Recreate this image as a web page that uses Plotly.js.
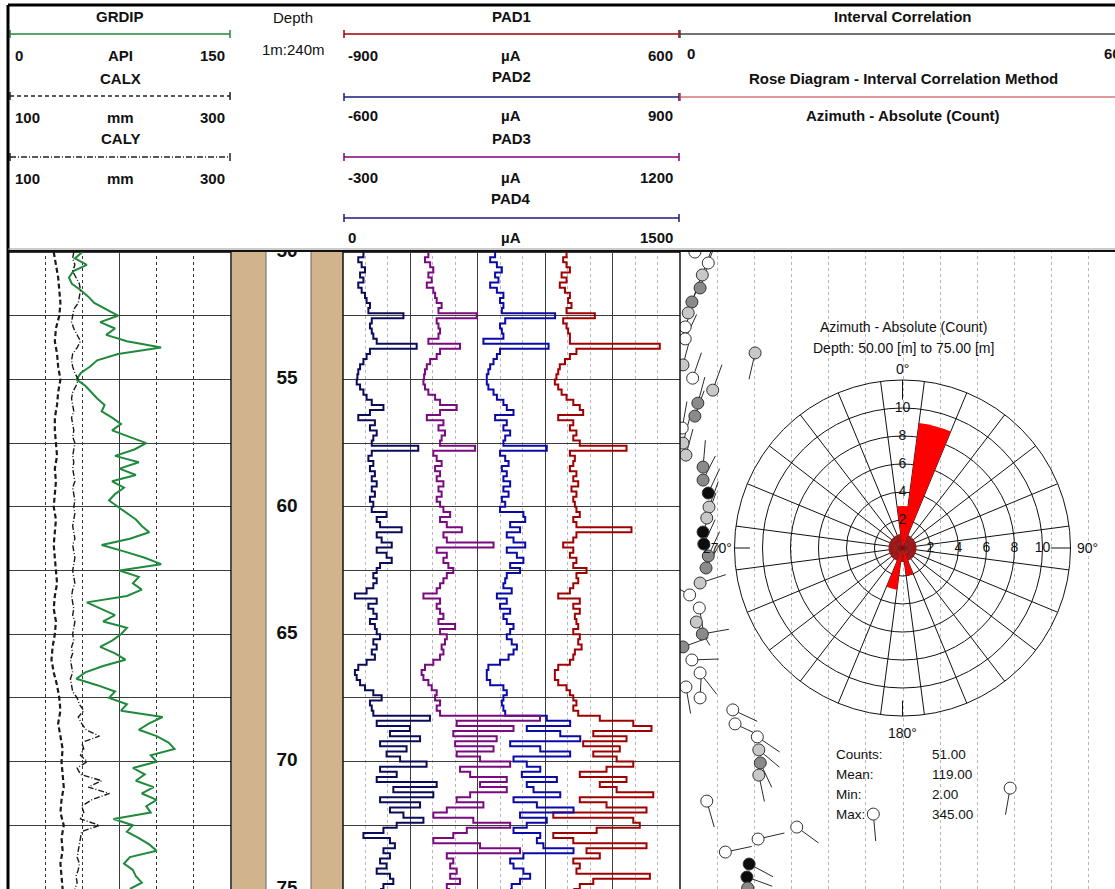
<!DOCTYPE html>
<html><head><meta charset="utf-8">
<script src="https://cdn.plot.ly/plotly-3.0.1.min.js"></script>
<style>html,body{margin:0;padding:0;background:#fff}#chart{width:1115px;height:889px}</style>
</head><body><div id="chart"></div>
<script>
// ---------------- DATA ----------------
const GR_DEPTH = [
50,50.25,50.5,50.75,51,51.25,51.5,51.75,52,52.25,
52.5,52.75,53,53.25,53.5,53.75,54,54.25,54.5,54.75,
55,55.25,55.5,55.75,56,56.25,56.5,56.75,57,57.25,
57.5,57.75,58,58.25,58.5,58.75,59,59.25,59.5,59.75,
60,60.25,60.5,60.75,61,61.25,61.5,61.75,62,62.25,
62.5,62.75,63,63.25,63.5,63.75,64,64.25,64.5,64.75,
65,65.25,65.5,65.75,66,66.25,66.5,66.75,67,67.25,
67.5,67.75,68,68.25,68.5,68.75,69,69.25,69.5,69.75,
70,70.25,70.5,70.75,71,71.25,71.5,71.75,72,72.25,
72.5,72.75,73,73.25,73.5,73.75,74,74.25,74.5,74.75,
75];
const GR = [
50,45,53,44,41,43,49,54,58,66,
74,62,72,66,80,103,74,60,55,49,
46,52,56,60,65,63,70,76,70,82,
93,85,72,88,75,86,70,78,72,68,
74,80,86,90,95,82,63,78,92,103,
75,88,84,90,80,53,62,72,64,80,
76,70,62,72,79,64,52,46,60,72,
68,80,76,104,95,88,100,108,112,96,
100,84,92,86,98,90,100,93,96,71,
84,80,88,95,100,82,78,84,86,90,
82];
const CALY = [
159,158,160,158,161,164,165,164,163,159,
158,157,159,162,165,162,158,157,158,160,
163,161,158,157,158,159,157,158,159,158,
160,159,158,159,158,159,160,158,159,160,
159,160,159,158,159,160,158,159,160,159,
158,159,160,158,157,158,159,158,160,159,
158,159,157,158,156,157,158,156,157,158,
162,164,168,163,166,170,182,166,168,165,
171,162,165,184,172,191,175,166,168,165,
182,166,165,164,163,162,164,163,161,162,
160];
const CALX_DEPTH = [
50,50.5,51,51.5,52,52.5,53,53.5,54,54.5,
55,55.5,56,56.5,57,57.5,58,58.5,59,59.5,
60,60.5,61,61.5,62,62.5,63,63.5,64,64.5,
65,65.5,66,66.5,67,67.5,68,68.5,69,69.5,
70,70.5,71,71.5,72,72.5,73,73.5,74,74.5,75];
const CALX = [
141,143,145,146,147,146,143,142,144,145,
147,145,144,142,142,143,144,142,143,142,
141,143,142,141,142,143,144,142,141,143,
142,140,139,141,144,146,147,145,147,149,
148,149,150,148,147,150,148,149,147,148,149];

const PAD_DEPTH = [
50,50.2,50.4,50.6,50.8,51,51.2,51.4,51.6,51.8,
52,52.2,52.4,52.6,52.8,53,53.2,53.4,53.6,53.8,
54,54.2,54.4,54.6,54.8,55,55.2,55.4,55.6,55.8,
56,56.2,56.4,56.6,56.8,57,57.2,57.4,57.6,57.8,
58,58.2,58.4,58.6,58.8,59,59.2,59.4,59.6,59.8,
60,60.2,60.4,60.6,60.8,61,61.2,61.4,61.6,61.8,
62,62.2,62.4,62.6,62.8,63,63.2,63.4,63.6,63.8,
64,64.2,64.4,64.6,64.8,65,65.2,65.4,65.6,65.8,
66,66.2,66.4,66.6,66.8,67,67.2,67.4,67.6,67.8,
68,68.2,68.4,68.6,68.8,69,69.2,69.4,69.6,69.8,
70,70.2,70.4,70.6,70.8,71,71.2,71.4,71.6,71.8,
72,72.2,72.4,72.6,72.8,73,73.2,73.4,73.6,73.8,
74,74.2,74.4,74.6,74.8,75];
const PAD1 = [
95,80,95,110,73,95,65,88,110,102,
117,95,221,80,95,102,110,110,510,139,
110,88,65,58,50,43,58,73,95,125,
154,169,58,125,110,139,125,154,362,110,
132,125,110,139,125,147,117,139,125,132,
139,154,125,139,384,139,125,80,125,110,
139,125,184,139,147,125,110,58,154,125,
154,132,139,147,125,154,147,162,132,125,
110,58,43,43,58,95,110,125,139,125,
147,243,392,473,214,362,169,332,214,318,
392,273,154,362,243,318,481,154,273,451,
36,392,421,229,36,125,451,184,243,125,
154,139,466,214,154,125];
const PAD2 = [
77,55,85,107,77,92,55,85,114,99,
114,107,344,122,99,107,114,25,315,99,
85,70,55,47,40,40,47,70,85,114,
129,159,77,129,114,144,122,114,307,99,
122,137,107,129,114,144,114,137,107,122,
99,203,211,144,188,129,159,211,129,174,
203,144,188,129,122,114,151,85,129,99,
144,114,129,159,144,129,151,174,159,137,
99,47,40,40,55,114,129,114,107,114,
122,307,411,218,367,456,144,278,411,159,
218,278,196,352,218,248,367,159,263,426,
188,307,218,159,278,263,292,426,203,144,
159,203,233,188,151,144];
const PAD3 = [
80,65,88,102,80,95,73,102,110,117,
139,125,295,117,125,132,125,80,221,132,
117,88,73,65,61,58,65,80,110,132,
206,132,73,147,125,154,139,132,288,102,
117,139,110,132,117,147,125,139,117,132,
147,177,132,162,229,147,162,370,117,162,
147,169,191,162,147,132,117,58,132,117,
132,147,125,199,132,162,154,139,147,132,
102,65,50,58,80,95,117,110,132,117,
132,577,206,459,191,384,199,370,206,310,
444,221,266,429,310,429,266,206,325,162,
102,280,444,251,191,102,310,488,162,191,
177,206,177,221,162,177];
const PAD4 = [
91,68,83,98,76,91,68,83,98,105,
120,113,269,128,120,128,135,150,328,120,
105,91,76,68,64,61,76,91,105,128,
180,120,68,142,120,150,135,128,335,128,
113,135,120,142,128,150,128,142,120,135,
128,194,150,165,261,150,172,217,150,194,
217,165,150,135,150,135,105,53,150,113,
135,150,120,142,150,165,135,150,128,142,
105,68,53,61,76,98,135,172,120,128,
135,387,150,298,209,343,165,283,194,254,
372,165,239,150,417,224,402,165,343,209,
269,358,239,180,91,209,231,180,209,165,
194,150,209,224,180,165];

const DEPTH_LABELS = [50,55,60,65,70,75];

// Tadpoles (interval correlation): dip (deg), depth (m), azimuth (deg), fill class
const TAD_DIP = [2.0,3.8,3.0,2.7,1.6,1.1,0.7,0.7,0.4,1.7,4.4,10.1,2.4,2.0,0.3,0.4,0.8,3.1,3.1,3.8,3.9,3.6,3.1,3.2,3.8,3.5,
 2.7,1.3,2.6,2.2,3.0,0.4,1.6,2.7,0.8,2.7,7.1,7.4,10.4,10.6,10.8,10.6,3.6,15.7,26.0,44.4,10.5,6.1,9.3,9.0,9.1];
const TAD_DEPTH = [50.0,50.43,50.9,51.41,51.96,52.39,52.94,53.41,54.43,54.95,55.42,53.96,55.93,56.44,56.91,57.5,57.97,58.44,58.95,59.46,60.01,60.44,60.99,61.46,61.93,62.4,
 62.99,63.46,63.97,64.52,64.99,65.5,66.01,66.52,67.07,67.5,67.97,68.52,69.03,69.54,70.05,70.53,71.55,72.57,72.06,71.04,73.04,73.55,74.02,74.53,74.96];
const TAD_AZ = [20,20,20,20,20,20,20,25,15,19,20,193,15,20,10,15,15,5,27,25,20,20,20,25,25,30,
 72,300,170,150,80,70,88,142,170,3,115,115,124,130,155,168,164,126,175,190,77,78,118,110,120];
const TAD_FILL = ['w','w','l','g','g','l','w','w','l','w','l','l','g','g','w','l','l','g','g','b','l','l','b','b','g','g',
 'l','w','w','l','g','g','w','w','w','w','w','w','w','l','g','l','w','w','w','w','w','w','b','b','g'];

// Rose diagram (azimuth bins, 15 deg)
const ROSE_AZ = [0,15,30,45,60,75,90,105,120,135,150,165,180,195,210,225,240,255,270,285,300,315,330,345];
const ROSE_COUNT = [3,9,1,1,1,1,1,1,1,1,1,2,1,3,1,1,1,1,1,1,1,1,1,1];
const ROSE_SECTOR_EDGES = [7.5,22.5,37.5,52.5,67.5,82.5,97.5,112.5,127.5,142.5,157.5,172.5,187.5,202.5,217.5,232.5,247.5,262.5,277.5,292.5,307.5,322.5,337.5,352.5];
const ROSE_RINGS = [2,4,6,8,10];
const ROSE_CARDINALS = [0,90,180,270];
const ROSE_STATS_LABELS = ['Counts:','Mean:','Min:','Max:'];
const ROSE_STATS_VALUES = ['51.00','119.00','2.00','345.00'];

// ---------------- LAYOUT HELPERS ----------------
const W = 1115, H = 889;
const px = x => x / W;
const py = y => 1 - y / H;
const FONT = 'Liberation Sans, Arial, sans-serif';
const YR = [75.0, 49.92];
const YDOM = [0, py(250)];
const DIP_RANGE = [0, 58.5];
const ROSE_RMAX = 12;
const ROSE_BOX = {x0:734.5, x1:1070.5, y0:380, y1:716};

function ax(o) {
  return Object.assign({showticklabels:false, ticks:'', zeroline:false, showline:false, showgrid:false, fixedrange:true}, o);
}

const data = [];
data.push({type:'scatter', mode:'lines', x:CALX, y:CALX_DEPTH, xaxis:'x2', yaxis:'y',
  line:{color:'#1a1a1a', width:2.2, dash:'5px,3px', shape:'linear'}, hoverinfo:'skip'});
data.push({type:'scatter', mode:'lines', x:CALY, y:GR_DEPTH, xaxis:'x2', yaxis:'y',
  line:{color:'#1a1a1a', width:1.4, dash:'6px,2px,1px,2px', shape:'linear'}, hoverinfo:'skip'});
data.push({type:'scatter', mode:'lines', x:GR, y:GR_DEPTH, xaxis:'x', yaxis:'y',
  line:{color:'#1f8a3c', width:2, shape:'linear'}, hoverinfo:'skip'});

data.push({type:'scatter', mode:'lines', x:PAD4, y:PAD_DEPTH, xaxis:'x7', yaxis:'y',
  line:{color:'#0b0b5c', width:2, shape:'vh'}});
data.push({type:'scatter', mode:'lines', x:PAD3, y:PAD_DEPTH, xaxis:'x6', yaxis:'y',
  line:{color:'#7a0a80', width:2, shape:'vh'}});
data.push({type:'scatter', mode:'lines', x:PAD2, y:PAD_DEPTH, xaxis:'x5', yaxis:'y',
  line:{color:'#0a0aa8', width:2, shape:'vh'}});
data.push({type:'scatter', mode:'lines', x:PAD1, y:PAD_DEPTH, xaxis:'x4', yaxis:'y',
  line:{color:'#a00000', width:2, shape:'vh'}});

// depth labels
data.push({type:'scatter', mode:'text', x:DEPTH_LABELS.map(()=>0.5), y:DEPTH_LABELS, text:DEPTH_LABELS.map(String),
  xaxis:'x3', yaxis:'y2', cliponaxis:true,
  textfont:{family:FONT, size:19, color:'#111', weight:'bold'}});

// tadpoles
const pxPerDip = (W - 680) / (DIP_RANGE[1] - DIP_RANGE[0]);
const pxPerM = (889 - 250) / (YR[0] - YR[1]);
const TAIL = 27;
const tx = [], ty = [];
TAD_DIP.forEach((d, i) => {
  const a = TAD_AZ[i] * Math.PI / 180;
  tx.push(d, d + TAIL * Math.sin(a) / pxPerDip, null);
  ty.push(TAD_DEPTH[i], TAD_DEPTH[i] - TAIL * Math.cos(a) / pxPerM, null);
});
data.push({type:'scatter', mode:'lines', x:tx, y:ty, xaxis:'x8', yaxis:'y3',
  line:{color:'#2a2a2a', width:1}, cliponaxis:true});
const FILLS = {w:'#ffffff', l:'#c8c8c8', g:'#8a8a8a', b:'#0c0c0c'};
data.push({type:'scatter', mode:'markers', x:TAD_DIP, y:TAD_DEPTH, xaxis:'x8', yaxis:'y3', cliponaxis:true,
  marker:{size:12, color:TAD_FILL.map(f => FILLS[f]), line:{color:'#333', width:1}}});

// rose diagram
data.push({type:'barpolar', theta:ROSE_AZ, r:ROSE_COUNT, width:15, subplot:'polar',
  marker:{color:ROSE_COUNT.map(c => c > 1 ? '#ff0000' : '#a01818'), line:{width:0}}});
data.push({type:'scatterpolar', mode:'lines', subplot:'polar',
  r:[10.6,12,null,10.6,12,null,10.9,12,null,10.9,12], theta:[0,0,null,90,90,null,180,180,null,270,270],
  line:{color:'#111', width:1}});
data.push({type:'scatterpolar', mode:'text', subplot:'polar', cliponaxis:false,
  r:ROSE_RINGS.concat(ROSE_RINGS), theta:ROSE_RINGS.map(()=>0).concat(ROSE_RINGS.map(()=>90)),
  text:ROSE_RINGS.concat(ROSE_RINGS).map(String), textfont:{family:FONT, size:14, color:'#111'}});

// ---------------- SHAPES ----------------
const shapes = [];
function ln(x0,y0,x1,y1,color,width,dash){ shapes.push({type:'line', xref:'paper', yref:'paper', x0:px(x0), y0:py(y0), x1:px(x1), y1:py(y1), line:{color, width, dash:dash||'solid'}}); }
function rect(x0,y0,x1,y1,fill){ shapes.push({type:'rect', xref:'paper', yref:'paper', x0:px(x0), y0:py(y0), x1:px(x1), y1:py(y1), fillcolor:fill, line:{width:0}}); }
function scaleLine(x0,x1,y,color,dash,width){ ln(x0,y,x1,y,color,width||1.5,dash); ln(x0,y-4,x0,y+4,color,1.5); ln(x1,y-4,x1,y+4,color,1.5); }

// tan bands in depth track
rect(232,250,266,889,'#d2b48c');
rect(311,250,343,889,'#d2b48c');
ln(266,250,266,889,'#666',1);
ln(311,250,311,889,'#666',1);

// header scale lines
scaleLine(10,230,34,'#1f8a3c');
scaleLine(10,230,96,'#222','4px,3px');
scaleLine(10,230,157,'#222','6px,2px,1px,2px');
scaleLine(344,679,34,'#a00000');
scaleLine(344,679,97,'#1a1a80');
scaleLine(344,679,157,'#800080');
scaleLine(344,679,218,'#1a1a80');
ln(680,34,1115,34,'#444',1.5); ln(680,30,680,38,'#444',1.5);
ln(680,97,1115,97,'#c0303a',1); ln(680,93,680,101,'#c0303a',1.5);

// borders
ln(8,5,8,889,'#000',3);
ln(8,5,1115,5,'#000',3);
ln(8,249,1115,249,'#999',1);
ln(8,251,1115,251,'#111',2);
ln(231,250,231,889,'#111',1.5);
ln(343,250,343,889,'#111',1.5);
ln(680,250,680,889,'#111',1.5);

// ---------------- ANNOTATIONS ----------------
const annotations = [];
function T(text, x, y, xanchor, size, bold){
  annotations.push({text: bold ? '<b>'+text+'</b>' : text, x:px(x), y:py(y), xref:'paper', yref:'paper',
    xanchor:xanchor||'center', yanchor:'middle', showarrow:false,
    font:{family:FONT, size:size||15, color:'#111'}});
}
// track 1
T('GRDIP',120,17,'center',15,true);
T('0',13,55,'left',15,true); T('API',120,55,'center',15,true); T('150',227,55,'right',15,true);
T('CALX',120,78,'center',15,true);
T('100',13,117,'left',15,true); T('mm',120,117,'center',15,true); T('300',227,117,'right',15,true);
T('CALY',120,139,'center',15,true);
T('100',13,178,'left',15,true); T('mm',120,178,'center',15,true); T('300',227,178,'right',15,true);
// depth
T('Depth',293,18,'center',15,false);
T('1m:240m',293,49,'center',15,false);
// pads
const padHead = [['PAD1','-900','600',17,55],['PAD2','-600','900',77,116],['PAD3','-300','1200',138,177],['PAD4','0','1500',199,238]];
padHead.forEach(p => {
  T(p[0],511,p[3],'center',15,true);
  T(p[1],346,p[4],'left',15,true); T('µA',511,p[4],'center',15,true); T(p[2],675,p[4],'right',15,true);
});
// interval correlation
T('Interval Correlation',903,17,'center',15,true);
T('0',685,54,'left',15,true); T('60',1102,54,'left',15,true);
T('Rose Diagram - Interval Correlation Method',903,78,'center',15,true);
T('Azimuth - Absolute (Count)',903,116,'center',15,true);
// rose titles, cardinal labels and stats
T('Azimuth - Absolute (Count)',903,327,'center',14,false);
T('Depth: 50.00 [m] to 75.00 [m]',903,348,'center',14,false);
const rcx = (ROSE_BOX.x0 + ROSE_BOX.x1) / 2, rcy = (ROSE_BOX.y0 + ROSE_BOX.y1) / 2;
const pxPerCount = (ROSE_BOX.x1 - ROSE_BOX.x0) / 2 / ROSE_RMAX;
ROSE_CARDINALS.forEach(a => {
  const rr = (a === 0 ? 12.8 : 13.2) * pxPerCount, t = a * Math.PI / 180;
  T(a + '°', rcx + rr * Math.sin(t), rcy - rr * Math.cos(t), 'center', 14, false);
});
ROSE_STATS_LABELS.forEach((s,i) => {
  T(s,834,754+20*i,'left',13.5,false);
  T(ROSE_STATS_VALUES[i],930,754+20*i,'left',13.5,false);
});

// ---------------- LAYOUT ----------------
const layout = {
  width:W, height:H, margin:{l:0,r:0,t:0,b:0,pad:0},
  paper_bgcolor:'#ffffff', plot_bgcolor:'rgba(0,0,0,0)', showlegend:false,
  xaxis: ax({domain:[px(8),px(231)], range:[0,150], anchor:'y', showgrid:true,
    tickmode:'array', tickvals:[75], gridcolor:'#3c3c3c', gridwidth:1,
    minor:{tickmode:'array', tickvals:[25,50,100,125], showgrid:true, gridcolor:'#333', griddash:'3px,3px', gridwidth:1}}),
  xaxis2: ax({overlaying:'x', anchor:'y', range:[100,300]}),
  xaxis3: ax({domain:[px(231),px(343)], range:[0,1], anchor:'y2'}),
  xaxis4: ax({domain:[px(343),px(680)], range:[-900,600], anchor:'y', showgrid:true,
    tick0:-900, dtick:300, gridcolor:'#3c3c3c', gridwidth:1,
    minor:{dtick:100, showgrid:true, gridcolor:'#b8b8b8', griddash:'3px,3px', gridwidth:1}}),
  xaxis5: ax({overlaying:'x4', anchor:'y', range:[-600,900]}),
  xaxis6: ax({overlaying:'x4', anchor:'y', range:[-300,1200]}),
  xaxis7: ax({overlaying:'x4', anchor:'y', range:[0,1500]}),
  xaxis8: ax({domain:[px(680),1], range:DIP_RANGE, anchor:'y3', showgrid:true,
    tick0:0, dtick:5, gridcolor:'#b8b8b8', griddash:'3px,3px', gridwidth:1}),
  yaxis: ax({domain:YDOM, range:YR, anchor:'x', showgrid:true, tick0:0, dtick:2.5, gridcolor:'#3c3c3c', gridwidth:1}),
  yaxis2: ax({domain:YDOM, range:YR, anchor:'x3'}),
  yaxis3: ax({domain:YDOM, range:YR, anchor:'x8'}),
  polar: {
    domain:{x:[px(ROSE_BOX.x0),px(ROSE_BOX.x1)], y:[py(ROSE_BOX.y1),py(ROSE_BOX.y0)]},
    bgcolor:'rgba(0,0,0,0)', bargap:0,
    angularaxis:{rotation:90, direction:'clockwise', tickmode:'array', tickvals:ROSE_SECTOR_EDGES,
      showticklabels:false, ticks:'', showgrid:true, gridcolor:'#111', gridwidth:1,
      showline:true, linecolor:'#111', linewidth:1},
    radialaxis:{range:[0,ROSE_RMAX], tickmode:'array', tickvals:ROSE_RINGS, showticklabels:false, ticks:'',
      showline:false, showgrid:true, gridcolor:'#111', gridwidth:1}
  },
  shapes, annotations
};

Plotly.newPlot('chart', data, layout, {staticPlot:true, displayModeBar:false});
</script></body></html>
